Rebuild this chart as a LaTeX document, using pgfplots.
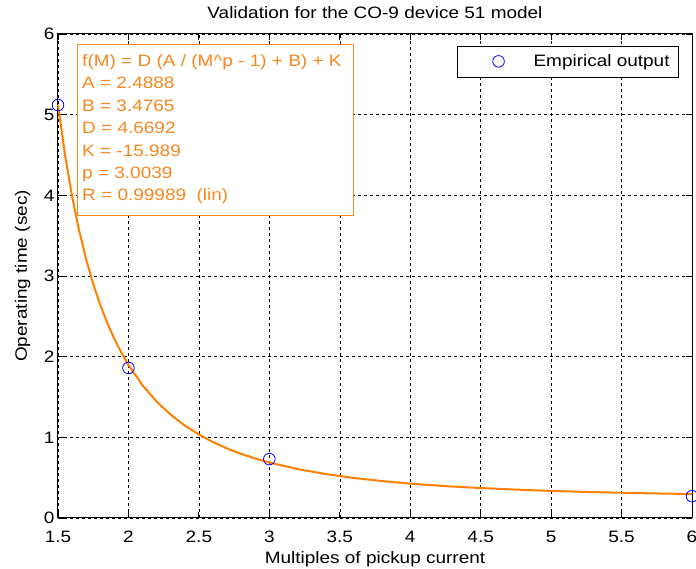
\documentclass[border=0pt]{standalone}
\usepackage{fontspec}
\setmainfont{Liberation Sans}[FakeStretch=1.15]
\usepackage{pgfplots}
\pgfplotsset{compat=1.18}
\definecolor{fitorange}{RGB}{255,128,0}
\definecolor{txtorange}{RGB}{250,135,30}
\begin{document}
\begin{tikzpicture}
\newcommand{\F}{\fontsize{16.5}{20}\selectfont}
\begin{axis}[
  scale only axis,
  width=634pt, height=484pt,
  at={(0,0)}, anchor=south west,
  xmin=1.5, xmax=6, ymin=0, ymax=6,
  xtick={1.5,2,...,6},
  xticklabels={1.5,2,2.5,3,3.5,4,4.5,5,5.5,6},
  ytick={0,1,2,3,4,5,6},
  /pgf/number format/assume math mode=true,
  tick label style={font=\F},
  label style={font=\F},
  every axis title shift/.style={},
  title style={font=\F, at={(axis description cs:0.5,1.0200)}, anchor=base},
  title={Validation for the CO-9 device 51 model},
  xlabel={Multiples of pickup current},
  ylabel={Operating time (sec)},
  xlabel style={at={(axis description cs:0.5,-0.0930)}, anchor=base},
  ylabel style={at={(axis description cs:-0.0489,0.5)}, anchor=base, rotate=0},
  xticklabel style={anchor=base, yshift=-25pt},
  grid=major,
  major grid style={black, line width=0.5pt, dash pattern=on 3pt off 3pt},
  major tick length=6pt,
  tick style={black, line width=0.8pt},
  axis line style={black, line width=1pt},
  clip=false,
  legend style={at={(rel axis cs:0.9795,0.9752)}, anchor=north east,
    draw=black, line width=0.8pt, font=\F, inner xsep=5pt, inner ysep=0pt,
    nodes={inner xsep=4pt}},
  legend image code/.code={%
    \path[draw=none,fill=none] (0pt,-16pt) rectangle (67pt,15pt);
    \draw[blue, line width=0.8pt] (36pt,0pt) circle (5.8pt);},
]
\addplot[fitorange, line width=2pt, forget plot] coordinates {
(1.50,5.125) (1.55,4.499) (1.60,3.988) (1.65,3.562) (1.70,3.205)
(1.75,2.902) (1.80,2.641) (1.85,2.416) (1.90,2.221) (1.95,2.049)
(2.00,1.898) (2.10,1.645) (2.20,1.443) (2.30,1.280) (2.40,1.146)
(2.50,1.035) (2.60,0.941) (2.70,0.862) (2.80,0.795) (2.90,0.738)
(3.00,0.688) (3.20,0.607) (3.40,0.545) (3.60,0.496) (3.80,0.458)
(4.00,0.426) (4.25,0.395) (4.50,0.371) (4.75,0.352) (5.00,0.336)
(5.25,0.323) (5.50,0.313) (5.75,0.304) (6.00,0.297)
};
\addplot[only marks, mark=o, mark size=5.8pt, blue, mark options={line width=0.8pt}] coordinates {
(1.5,5.12) (2,1.86) (3,0.73) (6,0.27)
};
\addlegendentry{Empirical output}
\draw[txtorange, line width=0.8pt, fill=white] (rel axis cs:0.030,0.626) rectangle (rel axis cs:0.4653,0.9793);
\begin{scope}[every node/.style={anchor=base west, text=txtorange, font=\F, inner sep=0pt}]
\node at (rel axis cs:0.0379,0.9329) {f(M) = D (A / (M\^{}p - 1) + B) + K};
\node at (rel axis cs:0.0379,0.8866) {A = 2.4888};
\node at (rel axis cs:0.0379,0.8403) {B = 3.4765};
\node at (rel axis cs:0.0379,0.7940) {D = 4.6692};
\node at (rel axis cs:0.0379,0.7477) {K = -15.989};
\node at (rel axis cs:0.0379,0.7014) {p = 3.0039};
\node at (rel axis cs:0.0379,0.6552) {R = 0.99989\ \ (lin)};
\end{scope}
\end{axis}
\pgfresetboundingbox
\path[use as bounding box] (-58pt,-51pt) rectangle (638pt,518pt);
\end{tikzpicture}
\end{document}
